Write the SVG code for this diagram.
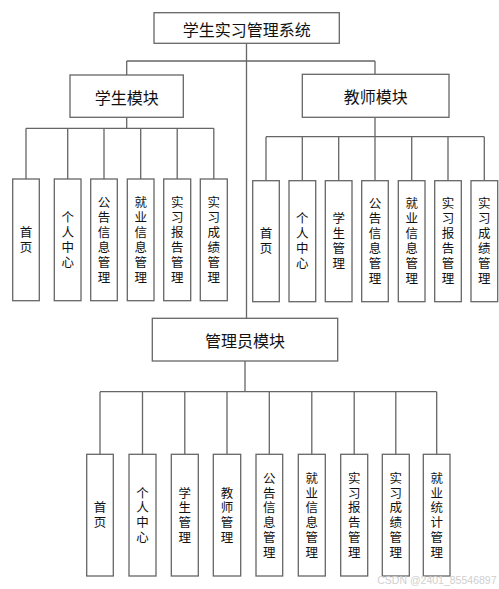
<svg xmlns="http://www.w3.org/2000/svg" width="499" height="589" viewBox="0 0 499 589">
<style>
.box{fill:#fff;stroke:#666;stroke-width:1.3}
.ln{fill:none;stroke:#666;stroke-width:1.3}
.t{font-family:"Noto Sans CJK SC","Noto Sans",sans-serif;fill:#111;text-anchor:middle}
.big{font-size:16px;dominant-baseline:central}
.v{font-size:12.5px;writing-mode:vertical-rl;text-orientation:upright;letter-spacing:2.5px}
.va{letter-spacing:2.3px}
.wm{font-family:"Liberation Sans",Arial,sans-serif;font-size:10.5px;fill:#cfcfcf}
</style>
<rect width="499" height="589" fill="#fff"/>
<g id="connectors">
<path class="ln" d="M246.5,43V318.3M126.7,61H375M126.7,61V75M375,61V74.3"/>
<path class="ln" d="M126.7,117.3V128.3M26,128.3H213.8M26,128.3V179M67.7,128.3V179M104,128.3V179M140.7,128.3V179M177.2,128.3V179M213.8,128.3V179"/>
<path class="ln" d="M375,117.3V136.7M266,136.7H484.3M266,136.7V180.7M302.3,136.7V180.7M338.7,136.7V180.7M375,136.7V180.7M411.7,136.7V180.7M448,136.7V180.7M484.3,136.7V180.7"/>
<path class="ln" d="M245,361V391.7M100,391.7H436.7M100,391.7V454.3M142.5,391.7V454.3M184.8,391.7V454.3M227,391.7V454.3M269.3,391.7V454.3M311.8,391.7V454.3M354.2,391.7V454.3M395.8,391.7V454.3M436.7,391.7V454.3"/>
</g>
<g id="root"><rect class="box" x="154" y="12.7" width="185.3" height="30.6"/><text class="t big" x="246.7" y="28.5">学生实习管理系统</text></g>
<g id="student"><rect class="box" x="70" y="75" width="113.3" height="42.3"/><text class="t big" x="126.7" y="96.5">学生模块</text></g>
<g id="teacher"><rect class="box" x="302.3" y="74.3" width="146.7" height="43"/><text class="t big" x="375.7" y="96">教师模块</text></g>
<g id="admin"><rect class="box" x="152.3" y="318.3" width="185.4" height="42.7"/><text class="t big" x="245" y="340">管理员模块</text></g>

<g id="s1"><rect class="box" x="12.7" y="179" width="26.6" height="121.7"/><text class="t v" x="26" y="241.2">首页</text></g>
<g id="s2"><rect class="box" x="54.3" y="179" width="26.7" height="121.7"/><text class="t v" x="67.7" y="241.2">个人中心</text></g>
<g id="s3"><rect class="box" x="90.7" y="179" width="26.6" height="121.7"/><text class="t v" x="104" y="241.2">公告信息管理</text></g>
<g id="s4"><rect class="box" x="127.3" y="179" width="26.7" height="121.7"/><text class="t v" x="140.7" y="241.2">就业信息管理</text></g>
<g id="s5"><rect class="box" x="163.7" y="179" width="27" height="121.7"/><text class="t v" x="177.2" y="241.2">实习报告管理</text></g>
<g id="s6"><rect class="box" x="200.3" y="179" width="27" height="121.7"/><text class="t v" x="213.8" y="241.2">实习成绩管理</text></g>

<g id="t1"><rect class="box" x="252.7" y="180.7" width="26.6" height="121"/><text class="t v" x="266" y="242.2">首页</text></g>
<g id="t2"><rect class="box" x="289" y="180.7" width="26.7" height="121"/><text class="t v" x="302.3" y="242.2">个人中心</text></g>
<g id="t3"><rect class="box" x="325.3" y="180.7" width="26.7" height="121"/><text class="t v" x="338.7" y="242.2">学生管理</text></g>
<g id="t4"><rect class="box" x="361.7" y="180.7" width="26.6" height="121"/><text class="t v" x="375" y="242.2">公告信息管理</text></g>
<g id="t5"><rect class="box" x="398.3" y="180.7" width="26.7" height="121"/><text class="t v" x="411.7" y="242.2">就业信息管理</text></g>
<g id="t6"><rect class="box" x="434.7" y="180.7" width="26.6" height="121"/><text class="t v" x="448" y="242.2">实习报告管理</text></g>
<g id="t7"><rect class="box" x="471" y="180.7" width="26.7" height="121"/><text class="t v" x="484.3" y="242.2">实习成绩管理</text></g>

<g id="a1"><rect class="box" x="86.7" y="454.3" width="26.6" height="121.7"/><text class="t v va" x="100" y="516.2">首页</text></g>
<g id="a2"><rect class="box" x="129" y="454.3" width="27" height="121.7"/><text class="t v va" x="142.5" y="516.2">个人中心</text></g>
<g id="a3"><rect class="box" x="171.3" y="454.3" width="27" height="121.7"/><text class="t v va" x="184.8" y="516.2">学生管理</text></g>
<g id="a4"><rect class="box" x="213.3" y="454.3" width="27.4" height="121.7"/><text class="t v va" x="227" y="516.2">教师管理</text></g>
<g id="a5"><rect class="box" x="256" y="454.3" width="26.7" height="121.7"/><text class="t v va" x="269.3" y="516.2">公告信息管理</text></g>
<g id="a6"><rect class="box" x="298.3" y="454.3" width="27" height="121.7"/><text class="t v va" x="311.8" y="516.2">就业信息管理</text></g>
<g id="a7"><rect class="box" x="340.7" y="454.3" width="27" height="121.7"/><text class="t v va" x="354.2" y="516.2">实习报告管理</text></g>
<g id="a8"><rect class="box" x="382.3" y="454.3" width="27" height="121.7"/><text class="t v va" x="395.8" y="516.2">实习成绩管理</text></g>
<g id="a9"><rect class="box" x="423.3" y="454.3" width="26.7" height="121.7"/><text class="t v va" x="436.7" y="516.2">就业统计管理</text></g>

<text class="wm" x="496.5" y="584" text-anchor="end">CSDN @2401_85546897</text>
</svg>
